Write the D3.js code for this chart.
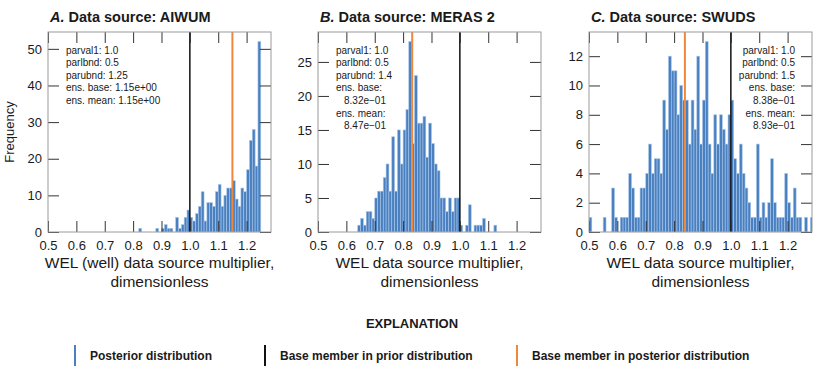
<!DOCTYPE html>
<html lang="en">
<head>
<meta charset="UTF-8">
<title>WEL multiplier histograms</title>
<script src="https://d3js.org/d3.v7.min.js"></script>
<style>
  body { margin: 0; background: #fff; }
  svg text { font-family: "Liberation Sans", Arial, sans-serif; fill: #1a1a1a; }
</style>
</head>
<body>
<div id="chart"></div>
<script>
// histogram bins: 0.01 wide, starting at 0.5
var binStart = 0.5, binWidth = 0.01;

var countsA = [
  0,0,0,0,0,0,0,0,0,0,
  0,0,0,0,0,0,0,0,0,0,
  0,0,0,0,0,0,0,0,0,0,
  0,0,1,0,0,0,0,0,1,0,
  1,2,1,1,0,4,1,2,4,6,
  4,3,5,7,11,3,8,8,7,11,
  13,7,10,12,12,14,9,7,12,11,
  17,25,28,18,52
];
var countsB = [
  0,0,0,0,0,0,0,0,0,0,
  0,0,0,0,1,2,1,3,3,2,
  5,6,6,8,10,6,14,6,15,10,
  15,18,28,13,23,16,16,17,11,16,
  13,10,9,5,5,3,5,3,5,5,
  1,0,1,4,0,1,1,1,2,0,
  0,0,1
];
var countsC = [
  1,0,0,0,0,1,0,0,3,1,
  0,1,1,1,4,3,1,1,3,3,
  4,6,4,5,5,4,9,7,12,11,
  11,8,10,9,9,6,9,7,12,6,
  9,13,6,4,8,6,8,7,6,8,
  9,5,4,6,4,3,2,1,1,6,
  1,2,1,2,5,2,1,1,1,4,
  2,1,3,1,1,0,1,0,1
];

var panelLetters = ["A.", "B.", "C."];
var panelSources = ["Data source: AIWUM", "Data source: MERAS 2", "Data source: SWUDS"];
var xLabels = [
  ["WEL (well) data source multiplier,", "dimensionless"],
  ["WEL data source multiplier,", "dimensionless"],
  ["WEL data source multiplier,", "dimensionless"]
];
var xTicks = [0.5, 0.6, 0.7, 0.8, 0.9, 1.0, 1.1, 1.2];
var yTicksA = [0, 10, 20, 30, 40, 50];
var yTicksB = [0, 5, 10, 15, 20, 25];
var yTicksC = [0, 2, 4, 6, 8, 10, 12];
var priorBase = [1.0, 1.0, 1.0];
var posteriorBase = [1.15, 0.832, 0.838];
var notesA = ["parval1: 1.0", "parlbnd: 0.5", "parubnd: 1.25", "ens. base: 1.15e+00", "ens. mean: 1.15e+00"];
var notesB = ["parval1: 1.0", "parlbnd: 0.5", "parubnd: 1.4", "ens. base:", "8.32e\u221201", "ens. mean:", "8.47e\u221201"];
var notesC = ["parval1: 1.0", "parlbnd: 0.5", "parubnd: 1.5", "ens. base:", "8.38e\u221201", "ens. mean:", "8.93e\u221201"];

var legendLabels = ["Posterior distribution", "Base member in prior distribution", "Base member in posterior distribution"];
var legendColors = ["#4a7fc0", "#111111", "#f0883a"];

var panels = [
  { counts: countsA, yTicks: yTicksA, notes: notesA, align: "left" },
  { counts: countsB, yTicks: yTicksB, notes: notesB, align: "left" },
  { counts: countsC, yTicks: yTicksC, notes: notesC, align: "right" }
];

var W = 822, H = 375;
var plotLeft = [48, 318, 589], plotTop = 32, plotW = 223, plotH = 200;
var tickLen = 11;

var svg = d3.select('#chart').append('svg')
  .attr('width', W)
  .attr('height', H);

var defs = svg.append('defs');

panels.forEach(function(p, pi) {
  var g = svg.append('g')
    .attr('transform', 'translate(' + plotLeft[pi] + ',' + plotTop + ')');

  var x = d3.scaleLinear().domain([0.5, 1.286]).range([0, plotW]);
  var y = d3.scaleLinear().domain([0, d3.max(p.counts) * 1.05]).range([plotH, 0]);

  defs.append('clipPath').attr('id', 'clip' + pi)
    .append('rect').attr('width', plotW).attr('height', plotH);

  var plot = g.append('g').attr('clip-path', 'url(#clip' + pi + ')');

  var bins = p.counts.map(function(c, i) {
    return { x0: binStart + i * binWidth, x1: binStart + (i + 1) * binWidth, n: c };
  }).filter(function(d) { return d.n > 0; });

  plot.selectAll('rect.bar').data(bins)
    .enter().append('rect')
    .attr('class', 'bar')
    .attr('x', function(d) { return x(d.x0); })
    .attr('width', function(d) { return x(d.x1) - x(d.x0); })
    .attr('y', function(d) { return y(d.n); })
    .attr('height', function(d) { return plotH - y(d.n); })
    .attr('fill', '#4a7fc0')
    .attr('stroke', '#a9c8ea')
    .attr('stroke-width', 0.6);

  // base member lines
  plot.append('line')
    .attr('x1', x(priorBase[pi])).attr('x2', x(priorBase[pi]))
    .attr('y1', 0).attr('y2', plotH)
    .attr('stroke', '#111').attr('stroke-width', 1.5);
  plot.append('line')
    .attr('x1', x(posteriorBase[pi])).attr('x2', x(posteriorBase[pi]))
    .attr('y1', 0).attr('y2', plotH)
    .attr('stroke', '#f0883a').attr('stroke-width', 2);

  // axes, ticks pointing inward on all four sides
  var bottom = g.append('g').attr('transform', 'translate(0,' + plotH + ')')
    .call(d3.axisBottom(x).tickValues(xTicks).tickFormat(d3.format('.1f'))
      .tickSizeInner(-tickLen).tickSizeOuter(0).tickPadding(9));
  var top = g.append('g')
    .call(d3.axisTop(x).tickValues(xTicks).tickFormat('')
      .tickSizeInner(-tickLen).tickSizeOuter(0));
  var left = g.append('g')
    .call(d3.axisLeft(y).tickValues(p.yTicks)
      .tickSizeInner(-tickLen).tickSizeOuter(0).tickPadding(6));
  var right = g.append('g').attr('transform', 'translate(' + plotW + ',0)')
    .call(d3.axisRight(y).tickValues(p.yTicks).tickFormat('')
      .tickSizeInner(-tickLen).tickSizeOuter(0));

  [bottom, top, left, right].forEach(function(a) {
    a.select('.domain').remove();
    a.selectAll('line').attr('stroke', '#333').attr('stroke-width', 1);
    a.selectAll('text').attr('font-size', 13).attr('fill', '#1a1a1a')
      .style('font-family', '"Liberation Sans", Arial, sans-serif');
  });

  // frame
  g.append('rect')
    .attr('width', plotW).attr('height', plotH)
    .attr('fill', 'none').attr('stroke', '#9a9a9a').attr('stroke-width', 1);

  // title
  var title = g.append('text')
    .attr('x', 2).attr('y', -10)
    .attr('font-size', 14.5).attr('font-weight', 'bold');
  title.append('tspan').attr('font-style', 'italic').text(panelLetters[pi] + ' ');
  title.append('tspan').text(panelSources[pi]);

  // x label
  xLabels[pi].forEach(function(line, li) {
    g.append('text')
      .attr('x', plotW / 2).attr('y', plotH + 36 + li * 19)
      .attr('text-anchor', 'middle')
      .attr('font-size', 15.5)
      .text(line);
  });

  if (pi === 0) {
    g.append('text')
      .attr('transform', 'translate(-34,' + (plotH / 2) + ') rotate(-90)')
      .attr('text-anchor', 'middle')
      .attr('font-size', 13)
      .text('Frequency');
  }

  // parameter notes
  var nx = p.align === 'left' ? 18 : plotW - 17;
  p.notes.forEach(function(line, li) {
    var indent = (p.align === 'left' && /^\d/.test(line)) ? 8 : 0;
    g.append('text')
      .attr('x', nx + indent)
      .attr('y', 21.5 + li * 12.6)
      .attr('text-anchor', p.align === 'left' ? 'start' : 'end')
      .attr('font-size', 10)
      .text(line);
  });
});

// legend
var legend = svg.append('g');
legend.append('text')
  .attr('x', 412).attr('y', 328)
  .attr('text-anchor', 'middle')
  .attr('font-size', 13).attr('font-weight', 'bold')
  .text('EXPLANATION');

var legendX = [75, 265, 517];
legendLabels.forEach(function(lbl, i) {
  legend.append('line')
    .attr('x1', legendX[i]).attr('x2', legendX[i])
    .attr('y1', 345).attr('y2', 366)
    .attr('stroke', legendColors[i]).attr('stroke-width', 2);
  legend.append('text')
    .attr('x', legendX[i] + 15).attr('y', 360)
    .attr('font-size', 12).attr('font-weight', 'bold')
    .text(lbl);
});
</script>
</body>
</html>
